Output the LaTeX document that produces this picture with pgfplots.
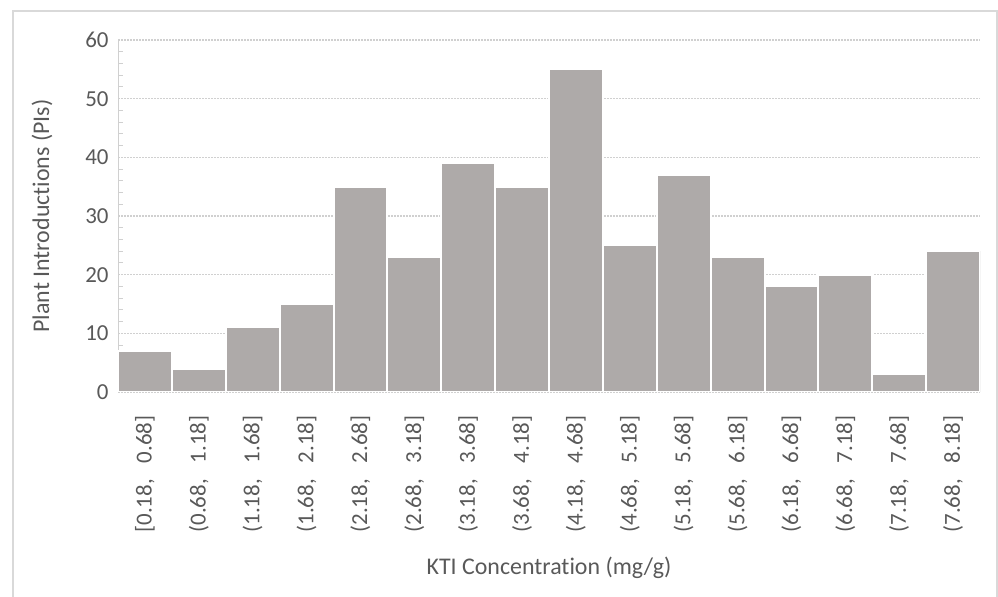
\documentclass[border=0pt]{standalone}
\usepackage{fontspec}
\setmainfont{Carlito}[Ligatures=NoCommon]
\usepackage{pgfplots}
\pgfplotsset{compat=1.18}
\definecolor{txt}{HTML}{595959}
\definecolor{barc}{RGB}{174,170,169}
\definecolor{gridc}{RGB}{208,208,208}
\definecolor{framec}{RGB}{217,217,217}
\begin{document}
\begin{tikzpicture}
\path[use as bounding box, fill=white] (0,0) rectangle (998bp,597bp);
\draw[framec, line width=1.2bp] (13bp,0) -- (13bp,586bp) -- (997bp,586bp) -- (997bp,0);
\begin{axis}[
  at={(118bp,205bp)}, anchor=south west,
  scale only axis, width=862bp, height=352bp,
  xmin=-0.5, xmax=15.5, ymin=0, ymax=60,
  ytick={0,10,...,60},
  minor y tick num=4,
  xtick={0,...,15},
  xticklabels={{[0.18,\hspace{0.7em}0.68]},{(0.68,\hspace{0.7em}1.18]},{(1.18,\hspace{0.7em}1.68]},{(1.68,\hspace{0.7em}2.18]},{(2.18,\hspace{0.7em}2.68]},{(2.68,\hspace{0.7em}3.18]},{(3.18,\hspace{0.7em}3.68]},{(3.68,\hspace{0.7em}4.18]},{(4.18,\hspace{0.7em}4.68]},{(4.68,\hspace{0.7em}5.18]},{(5.18,\hspace{0.7em}5.68]},{(5.68,\hspace{0.7em}6.18]},{(6.18,\hspace{0.7em}6.68]},{(6.68,\hspace{0.7em}7.18]},{(7.18,\hspace{0.7em}7.68]},{(7.68,\hspace{0.7em}8.18]}},
  x tick label style={rotate=90, anchor=east, font=\fontsize{23}{23}\selectfont, text=txt, xshift=-20bp},
  y tick label style={font=\fontsize{23}{23}\selectfont, text=txt, xshift=-6bp},
  /pgf/number format/assume math mode=true,
  axis x line*=bottom, axis y line*=left,
  x axis line style={draw=none},
  y axis line style={draw=gridc, line width=1bp},
  xtick style={draw=none},
  major tick style={draw=none},
  minor tick style={draw=gridc, line width=1bp},
  minor tick length=5bp,
  tick align=inside,
  ymajorgrids,
  major grid style={gridc, line width=1.3bp, dash pattern=on 2bp off 1bp},
  xlabel={KTI Concentration (mg/g)},
  ylabel={Plant Introductions (PIs)},
  xlabel style={at={(axis description cs:0.5,-0.5)}, anchor=center, font=\fontsize{24}{24}\selectfont, text=txt},
  ylabel style={at={(axis description cs:-0.088,0.5)}, anchor=center, font=\fontsize{24}{24}\selectfont, text=txt},
]
\addplot[ybar, bar width=1, fill=barc, draw=white, line width=2bp] coordinates {
(0,7) (1,4) (2,11) (3,15) (4,35) (5,23) (6,39) (7,35) (8,55) (9,25) (10,37) (11,23) (12,18) (13,20) (14,3) (15,24)
};
\end{axis}
\end{tikzpicture}
\end{document}
